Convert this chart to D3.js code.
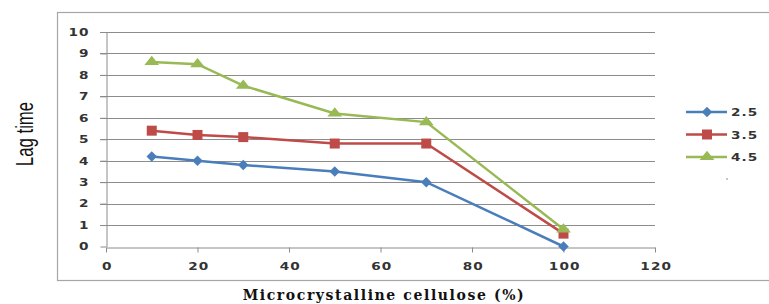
<!DOCTYPE html>
<html>
<head>
<meta charset="utf-8">
<script src="https://cdn.jsdelivr.net/npm/d3@7"></script>
<style>
	body { margin: 0; background: #fff; }
	svg { display: block; }
</style>
</head>
<body>
<script>
//data
var x_values = [10, 20, 30, 50, 70, 100];
var series_names = ["2.5", "3.5", "4.5"];
var lag_25 = [4.2, 4.0, 3.8, 3.5, 3.0, 0];
var lag_35 = [5.4, 5.2, 5.1, 4.8, 4.8, 0.6];
var lag_45 = [8.6, 8.5, 7.5, 6.2, 5.8, 0.8];
var x_ticks = [0, 20, 40, 60, 80, 100, 120];
var y_ticks = [0, 1, 2, 3, 4, 5, 6, 7, 8, 9, 10];

var colors = ["#4a7ebb", "#be4b48", "#98b954"];
var shapes = [d3.symbolSquare, d3.symbolSquare, d3.symbolTriangle];
var sizes = [55, 100, 95];
//extra shaping so markers look like the excel ones
var marker_tf = [" rotate(45)", "", " scale(1,0.72)"];

var width = 769, height = 304;
var plot_left = 106, plot_right = 655, plot_top = 32, plot_bottom = 246.5;
var stretch = 1.3; //tick labels are wide in the original

var svg = d3.select("body").append("svg")
	.attr("width", width)
	.attr("height", height);

//outer frame of the chart
svg.append("rect")
	.attr("x", 57.5).attr("y", 12.5)
	.attr("width", 730).attr("height", 268)
	.style("fill", "none")
	.style("stroke", "#a6a6a6")
	.style("stroke-width", 1.2);

var x = d3.scaleLinear().domain([0, 120]).range([plot_left, plot_right]);
var y = d3.scaleLinear().domain([0, 10]).range([plot_bottom, plot_top]);

//grid lines
svg.append("g").selectAll("line")
	.data(y_ticks.filter(function (d) { return d > 0; }))
	.enter().append("line")
	.attr("x1", plot_left - 6).attr("x2", plot_right)
	.attr("y1", function (d) { return Math.round(y(d)) + 0.5; })
	.attr("y2", function (d) { return Math.round(y(d)) + 0.5; })
	.style("stroke", "#8c8c8c")
	.style("stroke-width", 1);

//y axis
var yAxis = svg.append("g")
	.attr("transform", "translate(" + (plot_left + 0.5) + ",0)")
	.call(d3.axisLeft(y).tickValues(y_ticks).tickSize(6).tickSizeOuter(0));
yAxis.select(".domain").style("stroke", "#8c8c8c");
yAxis.selectAll(".tick line").style("stroke", "#8c8c8c");
yAxis.selectAll(".tick text")
	.attr("x", -17 / stretch);

//x axis
var xAxis = svg.append("g")
	.attr("transform", "translate(0," + (Math.round(plot_bottom) + 0.5) + ")")
	.call(d3.axisBottom(x).tickValues(x_ticks).tickSize(5).tickPadding(10).tickSizeOuter(0));
xAxis.select(".domain").style("stroke", "#8c8c8c");
xAxis.selectAll(".tick line").style("stroke", "#8c8c8c");
xAxis.selectAll(".tick text").attr("dx", 0.5);

svg.selectAll(".tick text")
	.attr("transform", "scale(" + stretch + ",1)")
	.style("font-family", "'DejaVu Sans', Verdana, sans-serif")
	.style("font-weight", "bold")
	.style("font-size", "10.5px")
	.style("letter-spacing", "0.8px")
	.style("fill", "#333");

//series lines and markers
var all_series = [lag_25, lag_35, lag_45];
var line = d3.line()
	.x(function (d, i) { return x(x_values[i]); })
	.y(function (d) { return y(d); });

all_series.forEach(function (vals, s) {
	svg.append("path")
		.datum(vals)
		.attr("d", line)
		.style("fill", "none")
		.style("stroke", colors[s])
		.style("stroke-width", 2.5);

	svg.append("g").selectAll("path")
		.data(vals)
		.enter().append("path")
		.attr("d", d3.symbol().type(shapes[s]).size(sizes[s]))
		.attr("transform", function (d, i) {
			return "translate(" + x(x_values[i]) + "," + y(d) + ")" + marker_tf[s];
		})
		.style("fill", colors[s]);
});

//legend
var legend = svg.append("g");
series_names.forEach(function (name, s) {
	var ly = 112 + s * 22.5;
	legend.append("line")
		.attr("x1", 686).attr("x2", 727)
		.attr("y1", ly).attr("y2", ly)
		.style("stroke", colors[s])
		.style("stroke-width", 2.5);
	legend.append("path")
		.attr("d", d3.symbol().type(shapes[s]).size(sizes[s]))
		.attr("transform", "translate(707," + ly + ")" + marker_tf[s])
		.style("fill", colors[s]);
	legend.append("text")
		.attr("transform", "translate(731," + (ly + 4) + ") scale(" + stretch + ",1)")
		.style("font-family", "'DejaVu Sans', Verdana, sans-serif")
		.style("font-weight", "bold")
		.style("font-size", "10.5px")
		.style("letter-spacing", "0.8px")
		.style("fill", "#333")
		.text(name);
});
legend.append("circle")
	.attr("cx", 727).attr("cy", 179).attr("r", 0.8)
	.style("fill", "#8a6fa8");

//axis titles
svg.append("text")
	.attr("transform", "translate(33,134) rotate(-90) scale(0.7,1)")
	.attr("text-anchor", "middle")
	.style("font-family", "'Liberation Sans', Arial, sans-serif")
	.style("font-size", "24px")
	.style("fill", "#111")
	.text("Lag time");

svg.append("text")
	.attr("x", 384).attr("y", 300)
	.attr("text-anchor", "middle")
	.style("font-family", "'DejaVu Serif', serif")
	.style("font-weight", "bold")
	.style("font-size", "14px")
	.style("letter-spacing", "1.6px")
	.style("fill", "#111")
	.text("Microcrystalline cellulose (%)");
</script>
</body>
</html>
